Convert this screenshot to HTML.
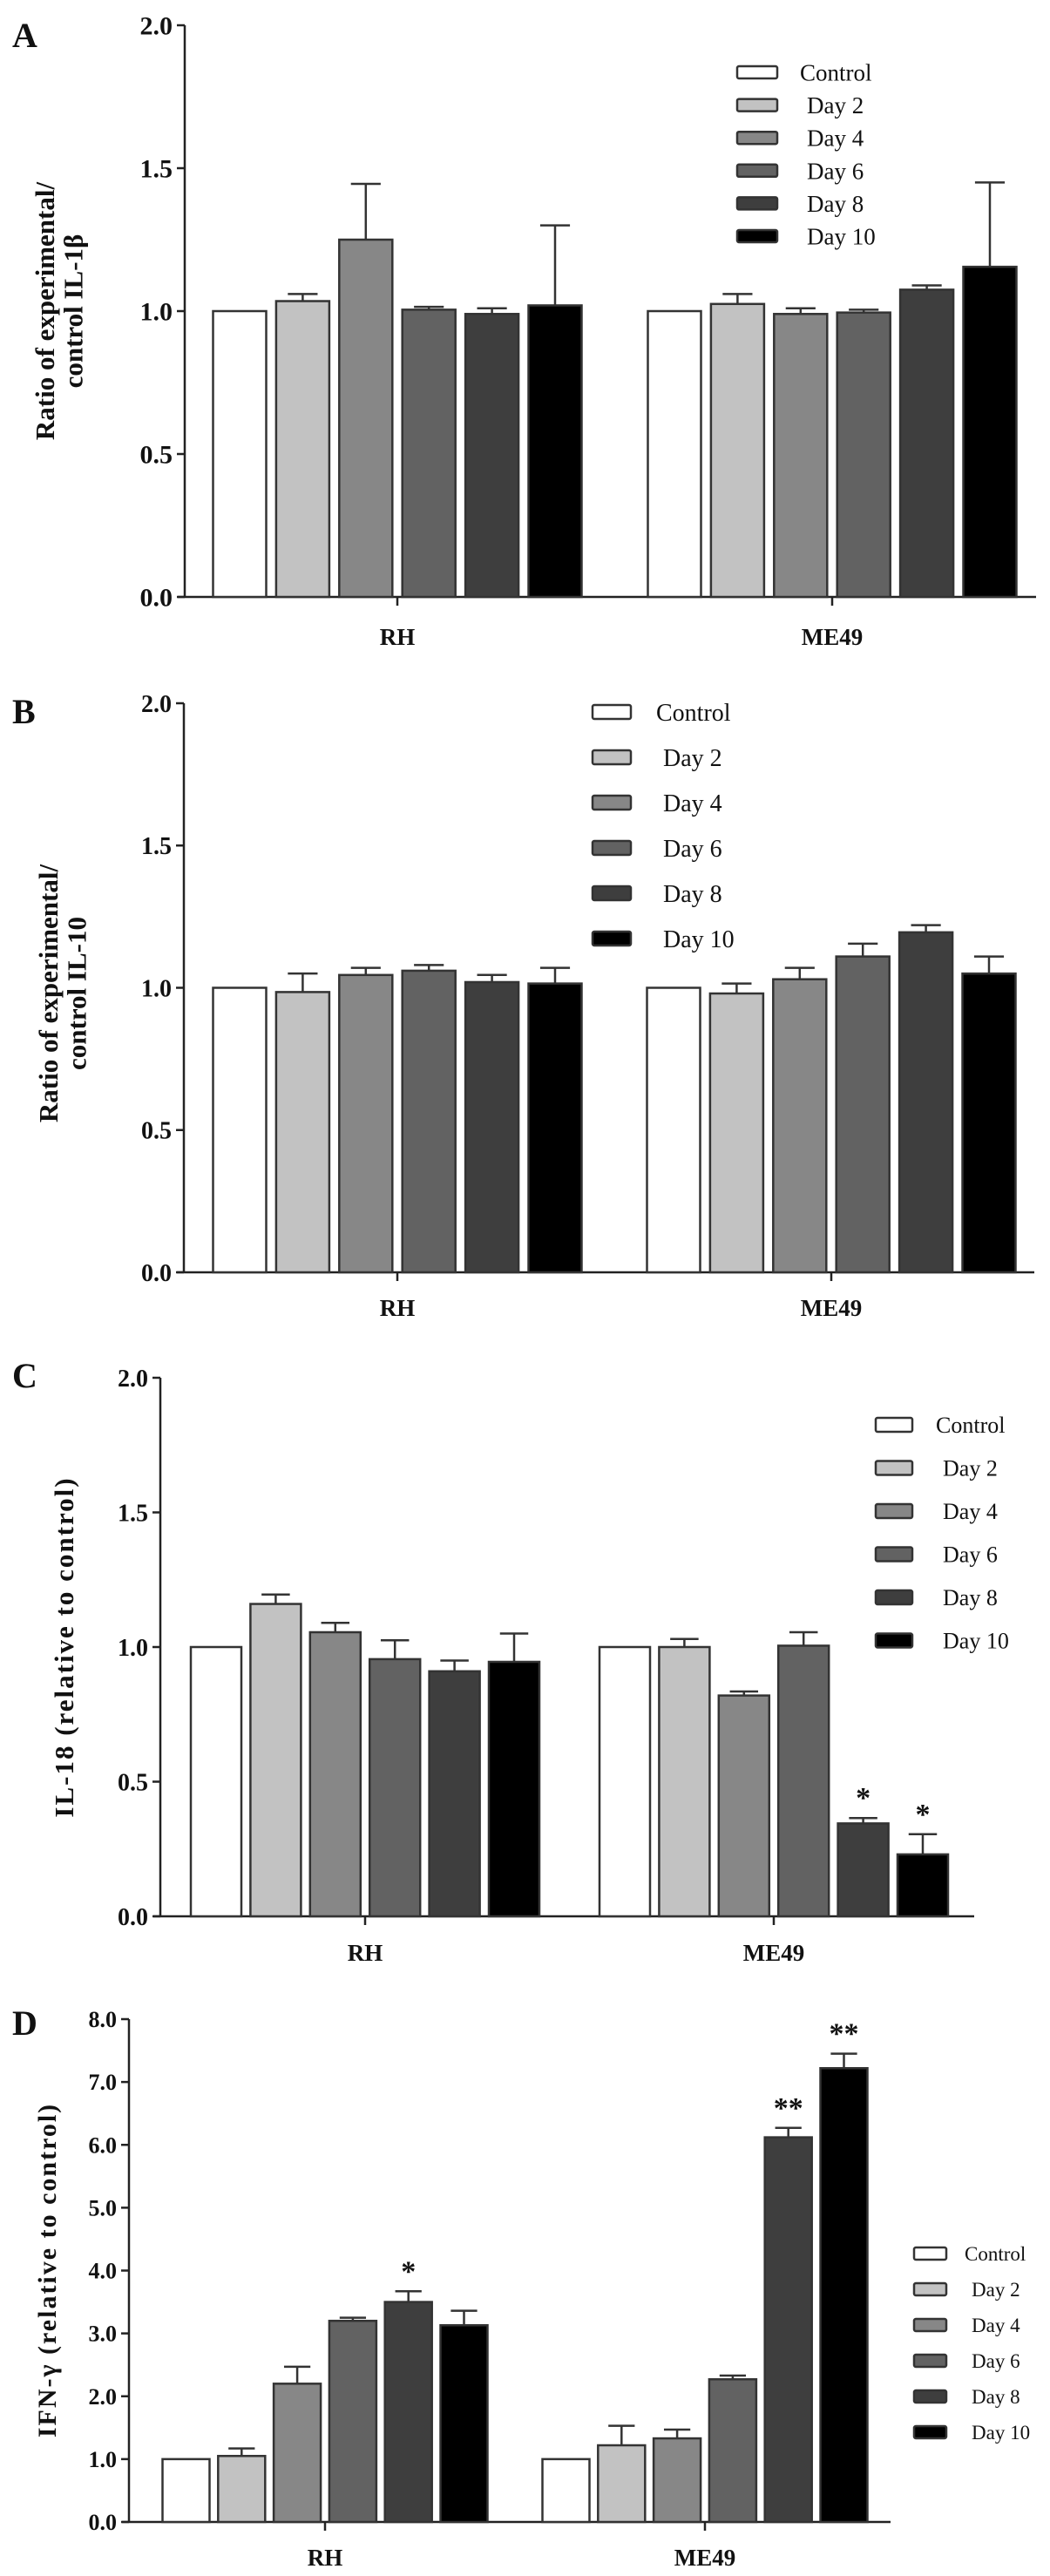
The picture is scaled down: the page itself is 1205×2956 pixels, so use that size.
<!DOCTYPE html>
<html><head><meta charset="utf-8"><title>Cytokine ratios</title>
<style>
html,body{margin:0;padding:0;background:#fff;}
svg{display:block;}
text{font-family:"Liberation Serif","DejaVu Serif",serif;fill:#111;}
</style></head>
<body>
<svg id="fig" xmlns="http://www.w3.org/2000/svg" width="1205" height="2956" viewBox="0 0 1205 2956"></svg>
<script>
// ---- data ----
const groups = ["RH", "ME49"];
const seriesNames = ["Control", "Day 2", "Day 4", "Day 6", "Day 8", "Day 10"];
// Panel A: IL-1β
const aRH = [1.0, 1.035, 1.25, 1.005, 0.99, 1.02];
const aRHErr = [1.0, 1.06, 1.445, 1.015, 1.01, 1.30];
const aME = [1.0, 1.025, 0.99, 0.995, 1.075, 1.155];
const aMEErr = [1.0, 1.06, 1.01, 1.005, 1.09, 1.45];
const aTicks = ["0.0", "0.5", "1.0", "1.5", "2.0"];
// Panel B: IL-10
const bRH = [1.0, 0.985, 1.045, 1.06, 1.02, 1.015];
const bRHErr = [1.0, 1.05, 1.07, 1.08, 1.045, 1.07];
const bME = [1.0, 0.98, 1.03, 1.11, 1.195, 1.05];
const bMEErr = [1.0, 1.015, 1.07, 1.155, 1.22, 1.11];
const bTicks = ["0.0", "0.5", "1.0", "1.5", "2.0"];
// Panel C: IL-18
const cRH = [1.0, 1.16, 1.055, 0.955, 0.91, 0.945];
const cRHErr = [1.0, 1.195, 1.09, 1.025, 0.95, 1.05];
const cME = [1.0, 1.0, 0.82, 1.005, 0.345, 0.23];
const cMEErr = [1.0, 1.03, 0.835, 1.055, 0.365, 0.305];
const cMEStars = ["", "", "", "", "*", "*"];
const cTicks = ["0.0", "0.5", "1.0", "1.5", "2.0"];
// Panel D: IFN-γ
const dRH = [1.0, 1.05, 2.2, 3.2, 3.5, 3.13];
const dRHErr = [1.0, 1.17, 2.47, 3.25, 3.67, 3.36];
const dRHStars = ["", "", "", "", "*", ""];
const dME = [1.0, 1.22, 1.33, 2.27, 6.12, 7.22];
const dMEErr = [1.0, 1.53, 1.47, 2.33, 6.27, 7.45];
const dMEStars = ["", "", "", "", "**", "**"];
const dTicks = ["0.0", "1.0", "2.0", "3.0", "4.0", "5.0", "6.0", "7.0", "8.0"];

// ---- rendering ----
const NS = "http://www.w3.org/2000/svg";
const svg = document.getElementById("fig");
const fills = ["#ffffff", "#c2c2c2", "#878787", "#626262", "#3e3e3e", "#000000"];
function mk(tag, attrs, parent, txt) {
  const e = document.createElementNS(NS, tag);
  for (const k in attrs) e.setAttribute(k, attrs[k]);
  if (txt !== undefined) e.textContent = txt;
  (parent || svg).appendChild(e);
  return e;
}

function panel(cfg) {
  const g = mk("g", {});
  
  
  const yMax = cfg.ticks.length - 1 === 4 ? 2 : 8;
  const yScale = v => cfg.y0 - (v / yMax) * (cfg.y0 - cfg.yTop);
  // panel letter
  const L = mk("text", {x: cfg.letterX, y: cfg.letterY, "font-size": cfg.letterSize, "font-weight": "bold"}, g, cfg.letter);
  
  
  // axes
  const ya = mk("line", {x1: cfg.ax, y1: cfg.yTop, x2: cfg.ax, y2: cfg.y0, stroke: "#222", "stroke-width": 2.5}, g);
  
  
  const xa = mk("line", {x1: cfg.ax - 8, y1: cfg.y0, x2: cfg.xEnd, y2: cfg.y0, stroke: "#222", "stroke-width": 2.5}, g);
  
  
  // y ticks
  cfg.ticks.forEach((t, i) => {
    const v = parseFloat(t);
    const y = yScale(v);
    mk("line", {x1: cfg.ax - 9, y1: y, x2: cfg.ax, y2: y, stroke: "#222", "stroke-width": 2.5}, g);
    const tl = mk("text", {x: cfg.ax - 14, y: y + cfg.tickSize * 0.35, "font-size": cfg.tickSize, "font-weight": "bold", "text-anchor": "end"}, g, t);
    
    
  });
  // y title
  const tx = mk("text", {transform: "translate(" + cfg.titleX + "," + cfg.titleY + ") rotate(-90)", "font-size": cfg.titleSize, "font-weight": "bold", "text-anchor": "middle", "letter-spacing": cfg.titleSpacing || 0}, g);
  
  
  cfg.title.forEach((line, i) => {
    mk("tspan", {x: 0, dy: i === 0 ? 0 : cfg.titleSize * 1.05}, tx, line);
  });
  // groups
  const sets = [[cfg.rh, cfg.rhErr, cfg.rhStars], [cfg.me, cfg.meErr, cfg.meStars]];
  groups.forEach((gname, gi) => {
    const cx = cfg.centers[gi];
    mk("line", {x1: cx, y1: cfg.y0, x2: cx, y2: cfg.y0 + 10, stroke: "#222", "stroke-width": 2.5}, g);
    const gl = mk("text", {x: cx, y: cfg.xLabelY, "font-size": cfg.xLabelSize, "font-weight": "bold", "text-anchor": "middle"}, g, gname);
    
    
    const vals = sets[gi][0], errs = sets[gi][1], stars = sets[gi][2];
    vals.forEach((v, si) => {
      const bx = cx + (si - 2.5) * cfg.pitch;
      const top = yScale(v);
      const eTop = yScale(errs[si]);
      if (errs[si] > v) {
        const el = mk("line", {x1: bx, y1: eTop, x2: bx, y2: top, stroke: "#333", "stroke-width": 2.5}, g);
        
        
        mk("line", {x1: bx - cfg.bw * 0.28, y1: eTop, x2: bx + cfg.bw * 0.28, y2: eTop, stroke: "#333", "stroke-width": 2.5}, g);
      }
      const r = mk("rect", {x: bx - cfg.bw / 2, y: top, width: cfg.bw, height: cfg.y0 - top, fill: fills[si], stroke: "#333", "stroke-width": 2.5}, g);
      
      
      if (stars && stars[si]) {
        const st = mk("text", {x: bx, y: eTop - 12, "font-size": cfg.starSize, "font-weight": "bold", "text-anchor": "middle"}, g, stars[si]);
        
        
      }
    });
  });
  // legend
  seriesNames.forEach((n, i) => {
    const y = cfg.legY + i * cfg.legStep;
    const lb = mk("rect", {x: cfg.legBoxX, y: y - cfg.legBoxH / 2, width: cfg.legBoxW, height: cfg.legBoxH, fill: fills[i], stroke: "#333", "stroke-width": 2.5, rx: 2}, g);
    
    
    const lt = mk("text", {x: cfg.legTextX + (i === 0 ? -8 : 0), y: y + cfg.legSize * 0.35, "font-size": cfg.legSize}, g, n);
    
    
  });
}

panel({id: "il1b", letter: "A", letterX: 14, letterY: 54, letterSize: 40,
  ax: 212, xEnd: 1189, yTop: 29, y0: 685, ticks: aTicks, tickSize: 30,
  centers: [456, 955], pitch: 72.4, bw: 61,
  rh: aRH, rhErr: aRHErr, me: aME, meErr: aMEErr,
  title: ["Ratio of experimental/", "control IL-1β"], titleX: 62, titleY: 357, titleSize: 31,
  xLabelY: 740, xLabelSize: 27,
  legBoxX: 846, legBoxW: 46, legBoxH: 14, legTextX: 926, legY: 83, legStep: 37.6, legSize: 27});

panel({id: "il10", letter: "B", letterX: 14, letterY: 830, letterSize: 40,
  ax: 211, xEnd: 1187, yTop: 807, y0: 1460, ticks: bTicks, tickSize: 28,
  centers: [456, 954], pitch: 72.4, bw: 61,
  rh: bRH, rhErr: bRHErr, me: bME, meErr: bMEErr,
  title: ["Ratio of experimental/", "control IL-10"], titleX: 66, titleY: 1140, titleSize: 31,
  xLabelY: 1510, xLabelSize: 27,
  legBoxX: 680, legBoxW: 44, legBoxH: 16, legTextX: 761, legY: 817, legStep: 52, legSize: 28});

panel({id: "il18", letter: "C", letterX: 14, letterY: 1592, letterSize: 40,
  ax: 184, xEnd: 1118, yTop: 1581, y0: 2199, ticks: cTicks, tickSize: 28,
  centers: [419, 888], pitch: 68.4, bw: 58,
  rh: cRH, rhErr: cRHErr, me: cME, meErr: cMEErr, meStars: cMEStars, starSize: 34,
  title: ["IL-18 (relative to control)"], titleX: 84, titleY: 1890, titleSize: 31, titleSpacing: 2,
  xLabelY: 2250, xLabelSize: 27,
  legBoxX: 1005, legBoxW: 42, legBoxH: 16, legTextX: 1082, legY: 1635, legStep: 49.5, legSize: 26});

panel({id: "ifng", letter: "D", letterX: 14, letterY: 2335, letterSize: 40,
  ax: 148, xEnd: 1022, yTop: 2317, y0: 2894, ticks: dTicks, tickSize: 26,
  centers: [373, 809], pitch: 63.8, bw: 54,
  rh: dRH, rhErr: dRHErr, rhStars: dRHStars, me: dME, meErr: dMEErr, meStars: dMEStars, starSize: 34,
  title: ["IFN-γ (relative to control)"], titleX: 64, titleY: 2605, titleSize: 30, titleSpacing: 2,
  xLabelY: 2944, xLabelSize: 27,
  legBoxX: 1049, legBoxW: 37, legBoxH: 14, legTextX: 1115, legY: 2586, legStep: 41, legSize: 23});
</script>
</body></html>
